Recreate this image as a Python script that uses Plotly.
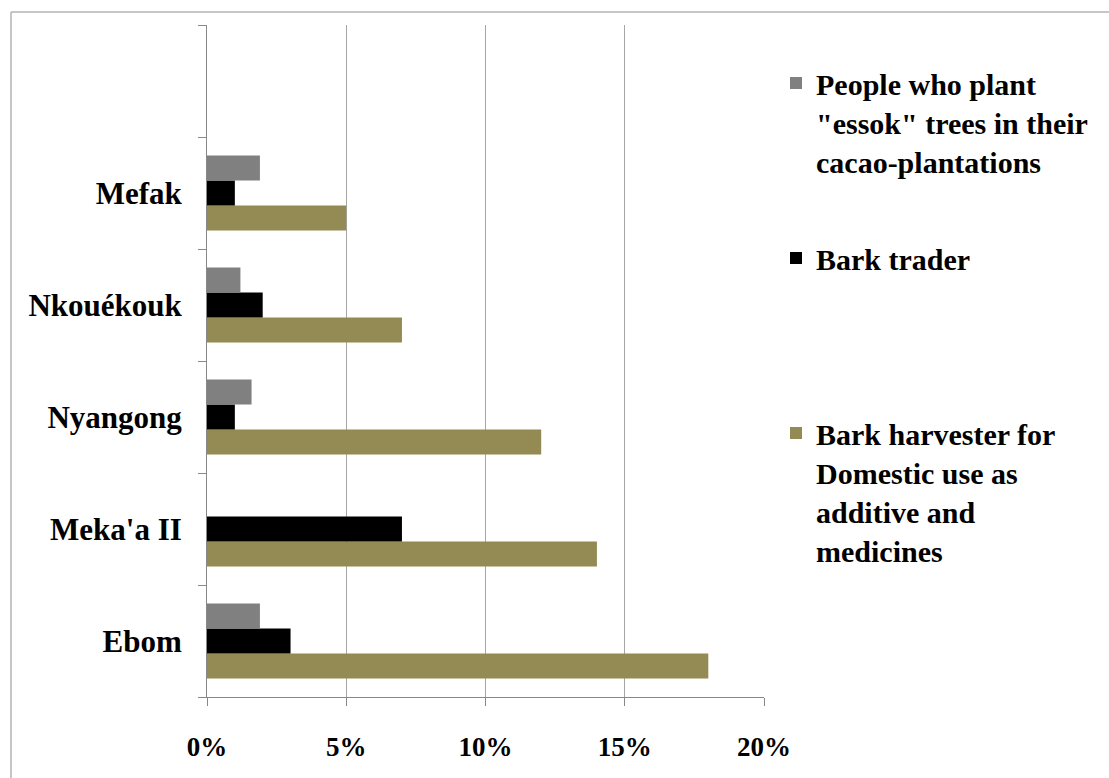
import plotly.graph_objects as go

villages = ["Ebom", "Meka'a II", "Nyangong", "Nkouékouk", "Mefak"]
axis_categories = villages + [" "]
harvester = [18, 14, 12, 7, 5]
trader = [3, 7, 1, 2, 1]
planters = [1.9, 0, 1.6, 1.2, 1.9]
x_ticks = [0, 5, 10, 15, 20]
x_tick_labels = ["0%", "5%", "10%", "15%", "20%"]

name_harvester = "Bark harvester for<br>Domestic use as<br>additive and<br>medicines"
name_trader = "Bark trader"
name_planters = "People who plant<br>\"essok\" trees in their<br>cacao-plantations"

FONT = dict(family="Liberation Serif, Times New Roman, serif", color="black", weight="bold")

fig = go.Figure()
fig.add_trace(go.Bar(y=villages, x=harvester, orientation="h", name=name_harvester,
                     marker=dict(color="#948A54", line=dict(width=0)), legend="legend3"))
fig.add_trace(go.Bar(y=villages, x=trader, orientation="h", name=name_trader,
                     marker=dict(color="#000000", line=dict(width=0)), legend="legend2"))
fig.add_trace(go.Bar(y=villages, x=planters, orientation="h", name=name_planters,
                     marker=dict(color="#808080", line=dict(width=0)), legend="legend"))

W, H = 1109, 778
L, R, T, B = 207, 345, 25, 81
pw, ph = W - L - R, H - T - B

def px(x):
    return (x - L) / pw

def py(y):
    return (H - B - y) / ph

leg_common = dict(font=dict(size=30, **FONT), valign="top", bgcolor="rgba(0,0,0,0)",
                  xanchor="left", yanchor="top", itemclick=False, itemdoubleclick=False)

fig.update_layout(
    width=W, height=H,
    margin=dict(l=L, r=R, t=T, b=B),
    paper_bgcolor="white", plot_bgcolor="white",
    barmode="group", bargap=0.33, bargroupgap=0,
    font=dict(size=28, **FONT),
    showlegend=True,
    legend=dict(x=px(776), y=py(57), **leg_common),
    legend2=dict(x=px(776), y=py(232), **leg_common),
    legend3=dict(x=px(776), y=py(407), **leg_common),
    xaxis=dict(range=[0, 20], tickvals=x_ticks, ticktext=x_tick_labels,
               showgrid=True, gridcolor="#a6a6a6", gridwidth=1,
               showline=True, linecolor="#888888", linewidth=1,
               ticks="outside", ticklen=8, tickcolor="#888888",
               zeroline=False, tickfont=dict(size=27, **FONT), ticklabelstandoff=18),
    yaxis=dict(type="category", categoryorder="array", categoryarray=axis_categories,
               range=[-0.5, 5.5], showgrid=False,
               showline=True, linecolor="#888888", linewidth=1,
               ticks="outside", ticklen=8, tickcolor="#888888", tickson="boundaries",
               tickfont=dict(size=31, **FONT), ticklabelstandoff=18),
    shapes=[
        dict(type="line", xref="paper", yref="paper", x0=px(11), x1=px(W + 5), y0=py(12), y1=py(12),
             line=dict(color="#b3b3b3", width=1.5)),
        dict(type="line", xref="paper", yref="paper", x0=px(11), x1=px(11), y0=py(12), y1=py(H + 5),
             line=dict(color="#b3b3b3", width=1.5)),
    ],
)

fig.write_html("out.html")
